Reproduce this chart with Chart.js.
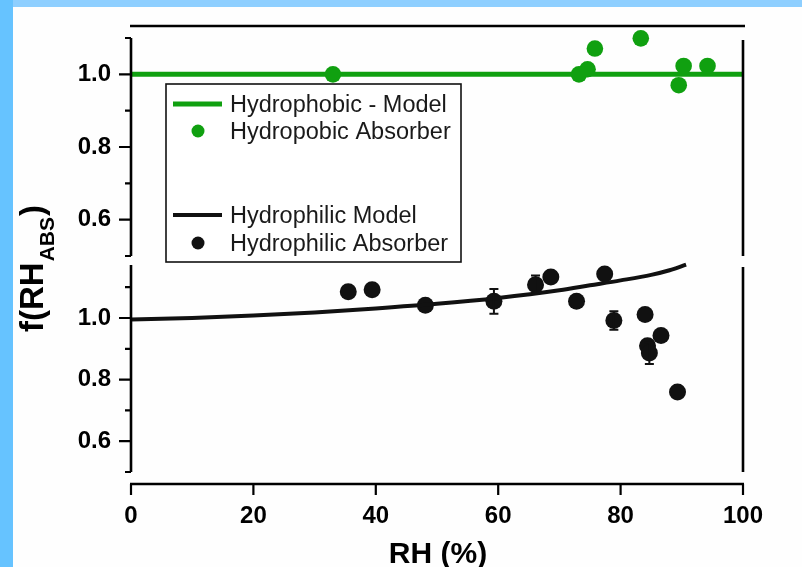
<!DOCTYPE html>
<html><head><meta charset="utf-8">
<script src="https://cdn.jsdelivr.net/npm/chart.js@4.4.1/dist/chart.umd.min.js"></script>
<style>
html,body{margin:0;padding:0;}
body{width:802px;height:567px;position:relative;overflow:hidden;background:#8ecfff;}
#left{position:absolute;left:0;top:0;width:13px;height:567px;background:#66c3ff;}
#panel{position:absolute;left:13px;top:7px;right:0;bottom:0;background:#fefefe;}
canvas{position:absolute;left:0;top:0;}
</style></head><body>
<div id="left"></div><div id="panel"></div>
<canvas id="topChart" width="802" height="567"></canvas>
<canvas id="botChart" width="802" height="567"></canvas>
<script>
// ---------- data ----------
const xTicks = [0, 20, 40, 60, 80, 100];
const yTicksTop = [0.5, 0.6, 0.7, 0.8, 0.9, 1.0, 1.1];
const yTicksBottom = [0.5, 0.6, 0.7, 0.8, 0.9, 1.0, 1.1];
const yLabelTicks = [0.6, 0.8, 1.0];

const rhPhobicModel = [0, 100];
const fPhobicModel = [1.0, 1.0];
const rhPhobic = [33.0, 73.2, 74.6, 75.8, 83.3, 89.5, 90.3, 94.2];
const fPhobic  = [1.000, 1.000, 1.014, 1.071, 1.099, 0.970, 1.023, 1.023];

const rhPhilicModel = [0, 10, 20, 30, 40, 50, 60, 70, 75, 80, 85, 88, 90.7];
const fPhilicModel  = [0.995, 1.000, 1.008, 1.018, 1.031, 1.046, 1.065, 1.090, 1.106, 1.122, 1.140, 1.155, 1.173];
const rhPhilic  = [35.5, 39.4, 48.1, 59.3, 66.1, 68.6, 72.8, 77.4, 78.9, 84.0, 86.6, 84.4, 84.7, 89.3];
const fPhilic   = [1.085, 1.092, 1.041, 1.054, 1.108, 1.133, 1.054, 1.143, 0.992, 1.011, 0.943, 0.910, 0.886, 0.760];
const errPhilic = [0, 0, 0, 0.040, 0.030, 0, 0, 0, 0.030, 0, 0, 0, 0.035, 0];

const legendLabels = ['Hydrophobic - Model', 'Hydropobic Absorber', 'Hydrophilic Model', 'Hydrophilic Absorber'];
const xTitle = 'RH (%)';
const yTitleMain = 'f(RH', yTitleSub = 'ABS', yTitleEnd = ')';

// ---------- style ----------
const GREEN = '#10a010';
const BLACK = '#111111';
const FONT = "'Liberation Sans', Arial, sans-serif";
Chart.defaults.font.family = FONT;

const pts = (xs, ys) => xs.map((x, i) => ({x: x, y: ys[i]}));

function drawYAxis(chart, tickVals) {
  const {ctx, chartArea: a, scales} = chart;
  const y = scales.y;
  ctx.save();
  ctx.strokeStyle = '#000';
  ctx.lineWidth = 2.6;
  ctx.beginPath();
  ctx.moveTo(a.left, a.top); ctx.lineTo(a.left, a.bottom);
  ctx.moveTo(a.right, a.top + 2); ctx.lineTo(a.right, a.bottom);
  ctx.stroke();
  ctx.lineWidth = 2.2;
  ctx.beginPath();
  tickVals.forEach(v => {
    const py = y.getPixelForValue(v);
    const len = yLabelTicks.includes(v) ? 12 : 6;
    ctx.moveTo(a.left - len, py); ctx.lineTo(a.left, py);
  });
  ctx.stroke();
  ctx.restore();
}

const topPlugin = {
  id: 'topDeco',
  afterDraw(chart) {
    const {ctx, chartArea: a} = chart;
    drawYAxis(chart, yTicksTop);
    ctx.save();
    // top frame line
    ctx.strokeStyle = '#000'; ctx.lineWidth = 2.6;
    ctx.beginPath(); ctx.moveTo(a.left - 1, 26); ctx.lineTo(a.right + 2, 26); ctx.stroke();
    // legend
    ctx.fillStyle = '#fff';
    ctx.fillRect(166, 84, 295, 178);
    ctx.strokeStyle = '#111'; ctx.lineWidth = 1.6;
    ctx.strokeRect(166, 84, 295, 178);
    const rows = [104, 131, 215, 243];
    const cols = [GREEN, GREEN, BLACK, BLACK];
    rows.forEach((ry, i) => {
      if (i % 2 === 0) {
        ctx.strokeStyle = cols[i]; ctx.lineWidth = i === 0 ? 5 : 4;
        ctx.beginPath(); ctx.moveTo(173, ry); ctx.lineTo(222, ry); ctx.stroke();
      } else {
        ctx.fillStyle = cols[i];
        ctx.beginPath(); ctx.arc(198, ry, 6.5, 0, Math.PI * 2); ctx.fill();
      }
      ctx.fillStyle = '#1a1a1a';
      ctx.font = '23.5px ' + FONT;
      ctx.textBaseline = 'alphabetic';
      ctx.textAlign = 'left';
      ctx.fillText(legendLabels[i], 230, ry + 8);
    });
    ctx.restore();
  }
};

const botPlugin = {
  id: 'botDeco',
  afterDatasetsDraw(chart) {
    const {ctx, scales} = chart;
    ctx.save();
    ctx.strokeStyle = BLACK; ctx.lineWidth = 2;
    ctx.beginPath();
    errPhilic.forEach((e, i) => {
      if (!e) return;
      const px = scales.x.getPixelForValue(rhPhilic[i]);
      const p1 = scales.y.getPixelForValue(fPhilic[i] + e);
      const p2 = scales.y.getPixelForValue(fPhilic[i] - e);
      ctx.moveTo(px, p1); ctx.lineTo(px, p2);
      ctx.moveTo(px - 4.5, p1); ctx.lineTo(px + 4.5, p1);
      ctx.moveTo(px - 4.5, p2); ctx.lineTo(px + 4.5, p2);
    });
    ctx.stroke();
    ctx.restore();
  },
  afterDraw(chart) {
    const {ctx, chartArea: a, scales} = chart;
    drawYAxis(chart, yTicksBottom);
    ctx.save();
    // x axis (offset below panel)
    const ax = a.bottom + 12;
    ctx.strokeStyle = '#000'; ctx.lineWidth = 2.6;
    ctx.beginPath(); ctx.moveTo(a.left - 1, ax); ctx.lineTo(a.right + 1, ax); ctx.stroke();
    ctx.lineWidth = 2.2;
    ctx.beginPath();
    xTicks.forEach(v => {
      const px = scales.x.getPixelForValue(v);
      ctx.moveTo(px, ax); ctx.lineTo(px, ax + 11);
    });
    ctx.stroke();
    // x title
    ctx.fillStyle = '#000';
    ctx.font = 'bold 30px ' + FONT;
    ctx.textAlign = 'center'; ctx.textBaseline = 'alphabetic';
    ctx.fillText(xTitle, 438, 563);
    // y title (rotated, with subscript)
    ctx.translate(43, 332);
    ctx.rotate(-Math.PI / 2);
    ctx.textAlign = 'left';
    ctx.font = 'bold 33px ' + FONT;
    ctx.fillText(yTitleMain, 0, 0);
    const w1 = ctx.measureText(yTitleMain).width;
    ctx.font = 'bold 21px ' + FONT;
    ctx.fillText(yTitleSub, w1 + 1, 11);
    const w2 = ctx.measureText(yTitleSub).width;
    ctx.font = 'bold 33px ' + FONT;
    ctx.fillText(yTitleEnd, w1 + w2 + 2, 0);
    ctx.restore();
  }
};

function yScale(min, max, tickVals) {
  return {
    type: 'linear', min: min, max: max,
    afterBuildTicks: s => { s.ticks = tickVals.map(v => ({value: v})); },
    afterFit: s => { s.width = 131; },
    grid: {display: false, drawTicks: false},
    border: {display: false},
    ticks: {
      padding: 20, color: '#000',
      font: {size: 24, weight: 'bold', family: FONT},
      callback: v => yLabelTicks.includes(v) ? v.toFixed(1) : ''
    }
  };
}

const common = {
  responsive: false, animation: false, devicePixelRatio: 1,
  plugins: {legend: {display: false}, tooltip: {enabled: false}}
};

new Chart(document.getElementById('topChart'), {
  type: 'scatter',
  data: {datasets: [
    {label: legendLabels[0], data: pts(rhPhobicModel, fPhobicModel), showLine: true,
     borderColor: GREEN, borderWidth: 5, pointRadius: 0, clip: false},
    {label: legendLabels[1], data: pts(rhPhobic, fPhobic), showLine: false,
     backgroundColor: GREEN, borderWidth: 0, pointRadius: 8.3, clip: false}
  ]},
  options: Object.assign({}, common, {
    layout: {padding: {left: 0, top: 38, right: 59, bottom: 311}},
    scales: {
      x: {type: 'linear', min: 0, max: 100, display: false},
      y: yScale(0.5, 1.1, yTicksTop)
    }
  }),
  plugins: [topPlugin]
});

new Chart(document.getElementById('botChart'), {
  type: 'scatter',
  data: {datasets: [
    {label: legendLabels[2], data: pts(rhPhilicModel, fPhilicModel), showLine: true,
     borderColor: BLACK, borderWidth: 4, pointRadius: 0, cubicInterpolationMode: 'monotone', clip: false},
    {label: legendLabels[3], data: pts(rhPhilic, fPhilic), showLine: false,
     backgroundColor: BLACK, borderWidth: 0, pointRadius: 8.5, clip: false}
  ]},
  options: Object.assign({}, common, {
    layout: {padding: {left: 0, top: 265, right: 59, bottom: 0}},
    scales: {
      x: {
        type: 'linear', min: 0, max: 100,
        afterBuildTicks: s => { s.ticks = xTicks.map(v => ({value: v})); },
        afterFit: s => { s.height = 95; },
        grid: {display: false, drawTicks: false},
        border: {display: false},
        ticks: {padding: 30, color: '#000', font: {size: 24, weight: 'bold', family: FONT}, maxRotation: 0}
      },
      y: yScale(0.5, 1.172, yTicksBottom)
    }
  }),
  plugins: [botPlugin]
});
</script></body></html>
